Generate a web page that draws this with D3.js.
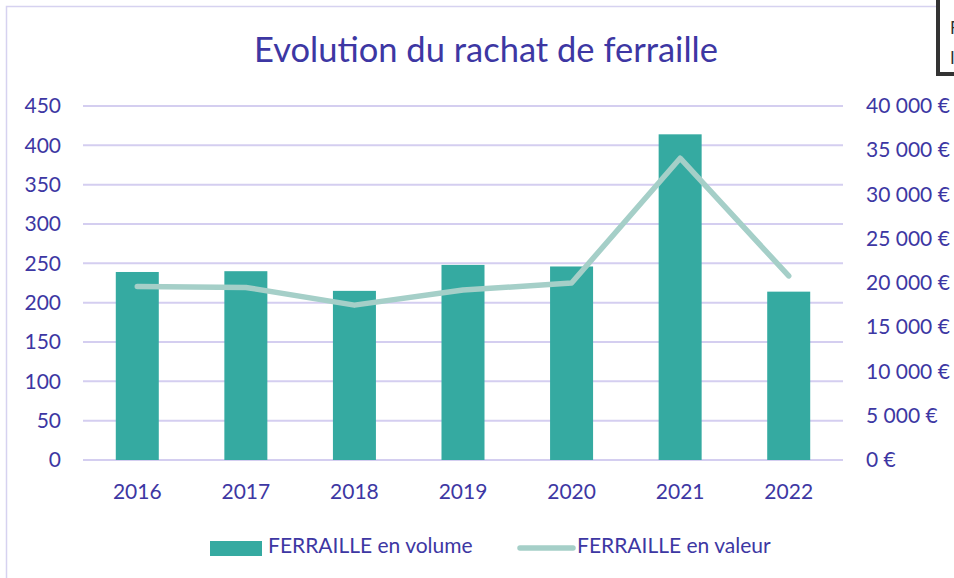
<!DOCTYPE html>
<html>
<head>
<meta charset="utf-8">
<script src="https://cdn.jsdelivr.net/npm/d3@7"></script>
<style>
  body { margin: 0; background: #fff; }
  svg text { font-family: Lato, "Open Sans", sans-serif; fill: #3d37a3; }
</style>
</head>
<body>
<div id="chart"></div>
<script>
// Data
var years = ["2016", "2017", "2018", "2019", "2020", "2021", "2022"];
var volume = [239, 240, 215, 248, 246, 414, 214];
var valeur = [19600, 19500, 17500, 19200, 20000, 34100, 20800];
var leftTicks = [0, 50, 100, 150, 200, 250, 300, 350, 400, 450];
var rightTicks = [0, 5000, 10000, 15000, 20000, 25000, 30000, 35000, 40000];

var svgWidth = 954;
var svgHeight = 578;
var margin = { top: 106, right: 111, bottom: 118, left: 83 };
var width = svgWidth - margin.left - margin.right;
var height = svgHeight - margin.top - margin.bottom;

var svg = d3.select("#chart")
  .append("svg")
  .attr("width", svgWidth)
  .attr("height", svgHeight);

// chart frame
svg.append("rect")
  .attr("x", 6.5).attr("y", 6.5)
  .attr("width", 1000).attr("height", 1000)
  .attr("fill", "none")
  .attr("stroke", "#d6d2f0")
  .attr("stroke-width", 1.5);

// title
svg.append("text")
  .attr("x", 486).attr("y", 62)
  .attr("text-anchor", "middle")
  .attr("font-size", "34.5px")
  .text("Evolution du rachat de ferraille");

var chartGroup = svg.append("g")
  .attr("transform", `translate(${margin.left}, ${margin.top})`);

var x = d3.scaleBand().domain(years).range([0, width]).paddingInner(0.6).paddingOuter(0.3);
var yLeft = d3.scaleLinear().domain([0, 450]).range([height, 0]);
var yRight = d3.scaleLinear().domain([0, 40000]).range([height, 0]);

var euro = d3.formatLocale({ decimal: ",", thousands: " ", grouping: [3], currency: ["", " €"] }).format("$,.0f");

// gridlines
chartGroup.append("g")
  .selectAll("line")
  .data(leftTicks)
  .enter()
  .append("line")
  .attr("x1", 0).attr("x2", width)
  .attr("y1", d => yLeft(d)).attr("y2", d => yLeft(d))
  .attr("stroke", "#d4cef0")
  .attr("stroke-width", 2);

// left axis
var leftAxis = d3.axisLeft(yLeft).tickValues(leftTicks).tickSize(0).tickPadding(22);
var gl = chartGroup.append("g").call(leftAxis);
gl.select(".domain").remove();
gl.selectAll("text").attr("font-size", "21px").attr("fill", "#3d37a3");

// right axis
var rightAxis = d3.axisRight(yRight).tickValues(rightTicks).tickSize(0).tickPadding(23).tickFormat(euro);
var gr = chartGroup.append("g").attr("transform", `translate(${width}, 0)`).call(rightAxis);
gr.select(".domain").remove();
gr.selectAll("text").attr("font-size", "21px").attr("fill", "#3d37a3");

// bottom axis
var bottomAxis = d3.axisBottom(x).tickSize(0).tickPadding(24);
var gb = chartGroup.append("g").attr("transform", `translate(0, ${height})`).call(bottomAxis);
gb.select(".domain").remove();
gb.selectAll("text").attr("font-size", "21px").attr("fill", "#3d37a3");

// bars
var barW = 43;
chartGroup.selectAll(".bar")
  .data(volume)
  .enter()
  .append("rect")
  .attr("class", "bar")
  .attr("x", (d, i) => x(years[i]) + x.bandwidth() / 2 - barW / 2)
  .attr("y", d => yLeft(d))
  .attr("width", barW)
  .attr("height", d => height - yLeft(d))
  .attr("fill", "#35aaa1");

// line
var line = d3.line()
  .x((d, i) => x(years[i]) + x.bandwidth() / 2)
  .y(d => yRight(d));

chartGroup.append("path")
  .datum(valeur)
  .attr("d", line)
  .attr("fill", "none")
  .attr("stroke", "#a5cfc8")
  .attr("stroke-width", 5.5)
  .attr("stroke-linecap", "round")
  .attr("stroke-linejoin", "round");

// legend
var legend = svg.append("g");
legend.append("rect")
  .attr("x", 210).attr("y", 541)
  .attr("width", 52).attr("height", 15)
  .attr("fill", "#35aaa1");
legend.append("text")
  .attr("x", 268).attr("y", 553)
  .attr("font-size", "21px")
  .text("FERRAILLE en volume");
legend.append("line")
  .attr("x1", 520).attr("x2", 573)
  .attr("y1", 548).attr("y2", 548)
  .attr("stroke", "#a5cfc8")
  .attr("stroke-width", 5.5)
  .attr("stroke-linecap", "round");
legend.append("text")
  .attr("x", 577).attr("y", 553)
  .attr("font-size", "21px")
  .text("FERRAILLE en valeur");

// overlapping box in the top right corner
var box = svg.append("g");
box.append("rect")
  .attr("x", 938).attr("y", -10)
  .attr("width", 40).attr("height", 84)
  .attr("fill", "#fff")
  .attr("stroke", "#333")
  .attr("stroke-width", 4);
box.append("text")
  .attr("x", 950).attr("y", 34)
  .attr("font-size", "17px")
  .style("fill", "#333")
  .text("F");
box.append("text")
  .attr("x", 950).attr("y", 64)
  .attr("font-size", "17px")
  .style("fill", "#333")
  .text("I");
</script>
</body>
</html>
